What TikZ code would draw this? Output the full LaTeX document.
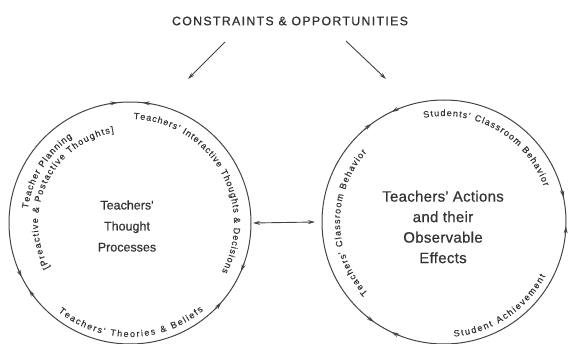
\documentclass[tikz,border=0pt]{standalone}
\usepackage{fontspec}
\setmainfont{Liberation Sans}
\newfontfamily\labelfont[FakeBold=0.35]{Liberation Sans}
\newfontfamily\headfont[FakeBold=0.9,LetterSpace=11]{Liberation Sans}
\newfontfamily\leftcore[FakeBold=0.6]{Liberation Sans}
\newfontfamily\rightcore[FakeBold=0.6,LetterSpace=2]{Liberation Sans}
\usetikzlibrary{arrows.meta,decorations.text}
\definecolor{ink}{HTML}{444444}
\definecolor{txt}{HTML}{333333}

\begin{document}
\begin{tikzpicture}[x=1pt,y=1pt,
  ring/.style={circle,draw=ink,line width=1pt,inner sep=0pt,outer sep=0pt},
  feed/.style={draw=ink,line width=0.9pt,-{Stealth[length=7pt,width=4pt]}},
  tipc/.style={draw=ink,line width=1pt,-{Stealth[length=7pt,width=4pt]}},
  arclabel/.style={decorate,decoration={text along path,text align=fit to path,
    text color=txt,text={|\labelfont\fontsize{9}{9}\selectfont|#1}}},
  centre/.style={align=center,text=txt}
]
\useasboundingbox (0,0) rectangle (568,343);

% the two cycles
\node[ring,minimum size=242pt] (L) at (130,120) {};
\node[ring,minimum size=244pt] (R) at (444,121) {};

% centre titles
\node[centre,font=\leftcore\fontsize{12.5}{21}\selectfont] (lt) at (127,117)
  {Teachers'\\Thought\\Processes};
\node[centre,font=\rightcore\fontsize{15}{20.5}\selectfont] (rt) at (443,116)
  {Teachers' Actions\\and their\\Observable\\Effects};

% heading and its two influences
\node[text=txt,font=\headfont\fontsize{12.3}{12}\selectfont] (title) at (290,322)
  {CONSTRAINTS \& OPPORTUNITIES};
\coordinate (f1a) at (225,301);
\coordinate (f1b) at (188,264);
\coordinate (f2a) at (346,302);
\coordinate (f2b) at (386,264);
\draw[feed] (f1a) -- (f1b);
\draw[feed] (f2a) -- (f2b);

% link between the cycles
\draw[feed,{Stealth[length=7pt,width=4pt]}-{Stealth[length=7pt,width=4pt]}]
  ([xshift=2pt]L.east) -- ([xshift=-7pt]R.west);

% arrowheads on the rings: tip angle / start angle
\foreach \a/\s in {96/100, 84/80, 206.5/202.5, 213.5/217.5, -23.5/-19.5, -41/-45}
  \draw[tipc] ([shift={(\s:121pt)}]L.center) arc[start angle=\s, end angle=\a, radius=121pt];
\foreach \a/\s in {115.5/111.5, 126.5/130.5, 11.5/15.5, -2/-6, 235/231, 244.5/248.5}
  \draw[tipc] ([shift={(\s:122pt)}]R.center) arc[start angle=\s, end angle=\a, radius=122pt];

% labels along the left ring
\path[arclabel={Teacher Planning}]
  ([shift={(172:103pt)}]L.center) arc[start angle=172, end angle=124, radius=103pt];
\path[arclabel={[Preactive {\&} Postactive Thoughts]}]
  ([shift={(209:92pt)}]L.center) arc[start angle=209, end angle=100, radius=92pt];
\path[arclabel={Teachers' Interactive Thoughts {\&} Decisions}]
  ([shift={(88:104pt)}]L.center) arc[start angle=88, end angle=-28, radius=104pt];
\path[arclabel={Teachers' Theories {\&} Beliefs}]
  ([shift={(-129:114pt)}]L.center) arc[start angle=-129, end angle=-50, radius=114pt];

% labels along the right ring
\path[arclabel={Teachers' Classroom Behavior}]
  ([shift={(223:104pt)}]R.center) arc[start angle=223, end angle=138, radius=104pt];
\path[arclabel={Students' Classroom Behavior}]
  ([shift={(101:106pt)}]R.center) arc[start angle=101, end angle=19.6, radius=106pt];
\path[arclabel={Student Achievement}]
  ([shift={(-85:115pt)}]R.center) arc[start angle=-85, end angle=-28, radius=115pt];
\end{tikzpicture}
\end{document}
